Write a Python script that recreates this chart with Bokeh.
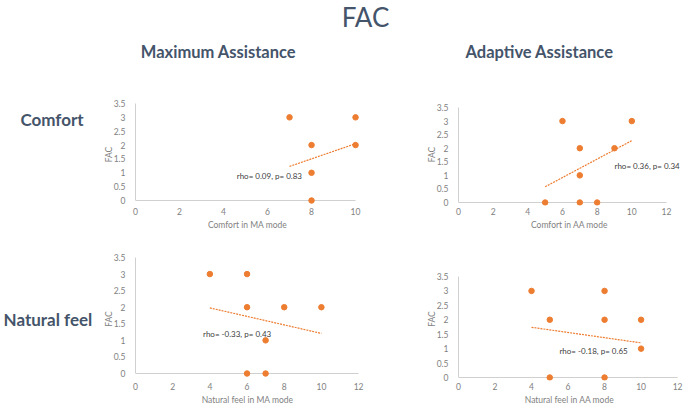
from bokeh.plotting import figure
from bokeh.models import Range1d, FixedTicker, NumeralTickFormatter, Label
from bokeh.layouts import column, row
from bokeh.core.properties import value
from bokeh.embed import file_html
from bokeh.resources import INLINE

# ---------------- data ----------------
main_title = "FAC"
col_titles = ["Maximum Assistance", "Adaptive Assistance"]
row_titles = ["Comfort", "Natural feel"]

y_ticks = [0, 0.5, 1, 1.5, 2, 2.5, 3, 3.5]
x_ticks_10 = [0, 2, 4, 6, 8, 10]
x_ticks_12 = [0, 2, 4, 6, 8, 10, 12]

# Comfort, Maximum Assistance
cma_x = [7, 10, 8, 10, 8, 8]
cma_y = [3, 3, 2, 2, 1, 0]
cma_trend_x = [7, 10]
cma_trend_y = [1.23, 2.05]
cma_note = "rho= 0.09, p= 0.83"

# Comfort, Adaptive Assistance
caa_x = [6, 10, 7, 9, 7, 5, 7, 8]
caa_y = [3, 3, 2, 2, 1, 0, 0, 0]
caa_trend_x = [5, 10]
caa_trend_y = [0.58, 2.28]
caa_note = "rho= 0.36, p= 0.34"

# Natural feel, Maximum Assistance
nma_x = [4, 6, 6, 8, 10, 7, 6, 7]
nma_y = [3, 3, 2, 2, 2, 1, 0, 0]
nma_trend_x = [4, 10]
nma_trend_y = [1.98, 1.21]
nma_note = "rho= -0.33, p= 0.43"

# Natural feel, Adaptive Assistance
naa_x = [4, 8, 5, 8, 10, 10, 5, 8]
naa_y = [3, 3, 2, 2, 2, 1, 0, 0]
naa_trend_x = [4, 10]
naa_trend_y = [1.74, 1.20]
naa_note = "rho= -0.18, p= 0.65"

x_labels = ["Comfort in MA mode", "Comfort in AA mode",
            "Natural feel in MA mode", "Natural feel in AA mode"]
y_label = "FAC"

# ---------------- style ----------------
FONT = "Lato"
ORANGE = "#ED7D31"
AXIS = "#D0D0D0"
TICK = "#7F7F7F"
HEAD = "#44546A"


def make(w, h, bl, br, bt, bb, xr, yr, xs, ys, tx, ty, xticks, xlabel,
         note, nx, ny):
    p = figure(width=w, height=h, output_backend="svg", toolbar_location=None,
               x_range=Range1d(*xr), y_range=Range1d(*yr),
               min_border_left=bl, min_border_right=br,
               min_border_top=bt, min_border_bottom=bb)
    p.outline_line_color = None
    p.grid.visible = False

    # x axis line at y = 0 spanning the tick range
    p.segment(x0=[xticks[0]], y0=[y_ticks[0]], x1=[xticks[-1]], y1=[y_ticks[0]],
              line_color=AXIS, line_width=1)
    p.line(tx, ty, line_color=ORANGE, line_width=1.2, line_dash="2 1")
    p.scatter(xs, ys, size=5.5, fill_color=ORANGE, line_color=ORANGE)

    p.xaxis.ticker = FixedTicker(ticks=xticks)
    p.yaxis.ticker = FixedTicker(ticks=y_ticks)
    p.yaxis.formatter = NumeralTickFormatter(format="0.[0]")
    p.yaxis.bounds = (y_ticks[0], y_ticks[-1])
    for ax in p.axis:
        ax.axis_line_color = AXIS
        ax.axis_line_width = 1
        ax.major_tick_line_color = None
        ax.minor_tick_line_color = None
        ax.major_label_text_font = FONT
        ax.major_label_text_font_size = "8.5px"
        ax.major_label_text_color = TICK
        ax.axis_label_text_font = FONT
        ax.axis_label_text_font_size = "8.5px"
        ax.axis_label_text_font_style = "normal"
        ax.axis_label_text_color = TICK
    p.xaxis.axis_line_color = None
    p.xaxis.major_label_standoff = -4
    p.xaxis.axis_label_standoff = 2
    p.yaxis.major_label_standoff = 4
    p.yaxis.axis_label_standoff = -3
    p.xaxis.axis_label = xlabel
    p.yaxis.axis_label = y_label

    p.add_layout(Label(x=nx, y=ny, text=note, text_font=FONT,
                       text_font_size="8px", text_color="#404040",
                       text_baseline="middle", text_align="left"))
    return p


tl = make(290, 160, 34, 31, 23, 35, (0, 10.18), (-0.18, 3.5),
          cma_x, cma_y, cma_trend_x, cma_trend_y, x_ticks_10, x_labels[0],
          cma_note, 4.6, 0.9)
tr = make(295, 160, 68, 5, 23, 35, (0, 12.81), (-0.11, 3.647),
          caa_x, caa_y, caa_trend_x, caa_trend_y, x_ticks_12, x_labels[1],
          caa_note, 9.0, 1.34)
bl = make(290, 168, 34, 31, 17, 28, (0, 12.05), (-0.211, 3.5),
          nma_x, nma_y, nma_trend_x, nma_trend_y, x_ticks_12, x_labels[2],
          nma_note, 3.63, 1.2)
br = make(295, 168, 68, 5, 17, 28, (0, 12.16), (-0.104, 4.158),
          naa_x, naa_y, naa_trend_x, naa_trend_y, x_ticks_12, x_labels[3],
          naa_note, 5.53, 0.93)


def text_fig(w, h, x_range, y_range, bt=0, bb=0):
    f = figure(width=w, height=h, x_range=x_range, y_range=y_range,
               output_backend="svg", toolbar_location=None,
               min_border_left=0, min_border_right=0,
               min_border_top=bt, min_border_bottom=bb,
               x_axis_location=None, y_axis_location=None)
    f.outline_line_color = None
    f.grid.visible = False
    return f


hdr = text_fig(685, 80, Range1d(0, 685), Range1d(80, 0))
hdr.text(x=[365], y=[16], text=[main_title], text_font=value(FONT),
         text_font_size="26px", text_align="center", text_baseline="middle",
         text_color=HEAD)
hdr.text(x=[218, 539], y=[51, 51], text=col_titles, text_font=value(FONT),
         text_font_size="16.5px", text_font_style="bold", text_align="center",
         text_baseline="middle", text_color=HEAD)

# label figures share the row's borders; their ranges are in page pixels
lab1 = text_fig(100, 160, Range1d(0, 100), Range1d(205, 103), bt=23, bb=35)
lab1.text(x=[51.5], y=[119], text=[row_titles[0]], text_font=value(FONT),
          text_font_size="17px", text_font_style="bold", text_align="center",
          text_baseline="middle", text_color=HEAD)
lab2 = text_fig(100, 168, Range1d(0, 100), Range1d(380, 257), bt=17, bb=28)
lab2.text(x=[3], y=[319], text=[row_titles[1]], text_font=value(FONT),
          text_font_size="17px", text_font_style="bold", text_align="left",
          text_baseline="middle", text_color=HEAD)

layout = column(hdr,
                row(lab1, tl, tr, spacing=0),
                row(lab2, bl, br, spacing=0),
                spacing=0)

open("out.html", "w").write(file_html(layout, INLINE))
